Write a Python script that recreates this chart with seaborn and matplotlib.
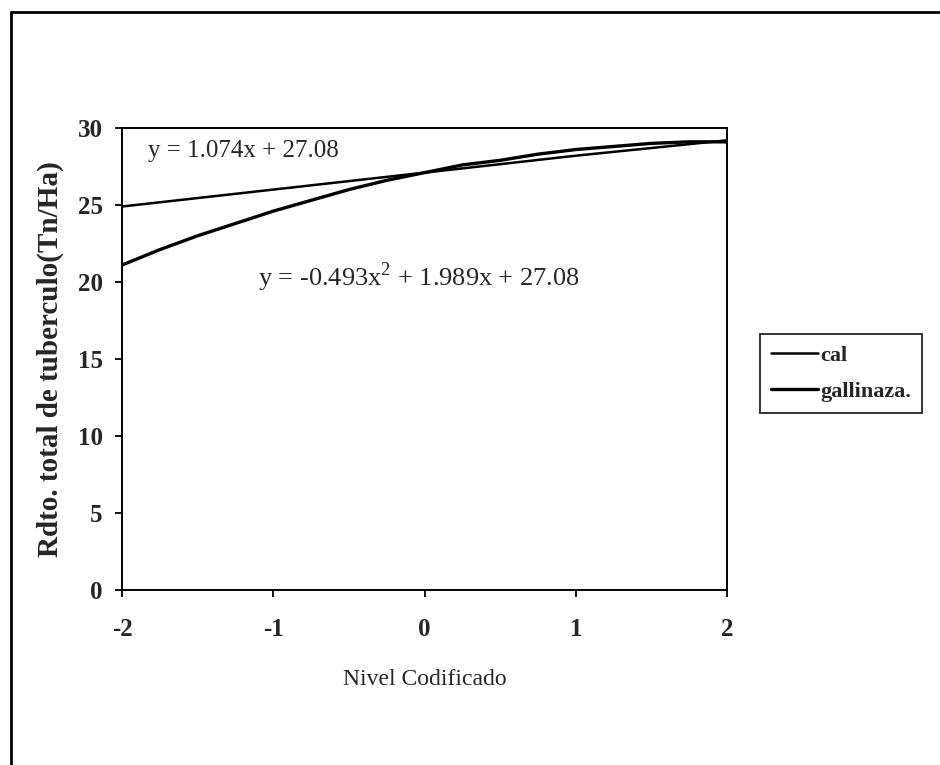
import pandas as pd
import matplotlib.pyplot as plt
import seaborn as sns
from matplotlib.lines import Line2D

# values
cal_x = [-2, -1, 0, 1, 2]
cal_y = [24.9, 26.0, 27.1, 28.2, 29.2]

gal_x = [-2, -1.75, -1.5, -1.25, -1, -0.75, -0.5, -0.25, 0,
         0.25, 0.5, 0.75, 1, 1.25, 1.5, 1.75, 2]
gal_y = [21.1, 22.1, 23.0, 23.8, 24.6, 25.3, 26.0, 26.6, 27.1,
         27.6, 27.9, 28.3, 28.6, 28.8, 29.0, 29.1, 29.1]

x_ticks = [-2, -1, 0, 1, 2]
y_ticks = [0, 5, 10, 15, 20, 25, 30]

cal_eq = "y = 1.074x + 27.08"
gal_eq = "y = -0.493x$^{2}$ + 1.989x + 27.08"

sns.set_style("white")
plt.rcParams['font.family'] = ['Liberation Serif', 'DejaVu Serif']
plt.rcParams['mathtext.fontset'] = 'custom'
plt.rcParams['mathtext.rm'] = 'Liberation Serif'
plt.rcParams['axes.unicode_minus'] = False

fig = plt.figure(figsize=(9.4, 7.65), dpi=100)
ax = fig.add_axes([0.1298, 0.2288, 0.6436, 0.6039])

cal = pd.DataFrame({"x": cal_x, "y": cal_y})
gal = pd.DataFrame({"x": gal_x, "y": gal_y})
sns.lineplot(data=cal, x="x", y="y", ax=ax, color="black", linewidth=1.8, label="cal")
sns.lineplot(data=gal, x="x", y="y", ax=ax, color="black", linewidth=2.4, label="gallinaza.")

ax.set_xlim(-2, 2)
ax.set_ylim(0, 30)
ax.set_xticks(x_ticks)
ax.set_yticks(y_ticks)
ax.tick_params(direction="out", length=5, width=1.3, labelsize=18, color="black",
               left=True, bottom=True)
ax.tick_params(axis="y", pad=9)
ax.tick_params(axis="x", pad=15)
for lab in ax.get_xticklabels() + ax.get_yticklabels():
    lab.set_fontweight("bold")
for s in ax.spines.values():
    s.set_color("black")
    s.set_linewidth(1.4)

ax.set_xlabel("Nivel Codificado", fontsize=17, labelpad=20)
ax.set_ylabel("Rdto. total de tuberculo(Tn/Ha)", fontsize=21, fontweight="bold", labelpad=10)

ax.text(-1.83, 28.5, cal_eq, fontsize=18, va="center", ha="left")
ax.text(-1.10, 20.3, gal_eq, fontsize=19, va="center", ha="left")

leg = ax.legend(loc="upper left", bbox_to_anchor=(760 / 940, 1 - 334 / 765),
                bbox_transform=fig.transFigure, frameon=True, fancybox=False,
                fontsize=16, handlelength=2.1, handletextpad=0.1, borderpad=0.5,
                labelspacing=0.7, borderaxespad=0)
leg.get_frame().set_edgecolor("black")
leg.get_frame().set_linewidth(1.4)
for t in leg.get_texts():
    t.set_fontweight("bold")

# outer chart border
fig.add_artist(Line2D([11 / 940, 11 / 940], [0, 1 - 12 / 765], color="black", lw=2))
fig.add_artist(Line2D([11 / 940, 1], [1 - 12 / 765, 1 - 12 / 765], color="black", lw=2))

fig.savefig("out.png", dpi=100)
